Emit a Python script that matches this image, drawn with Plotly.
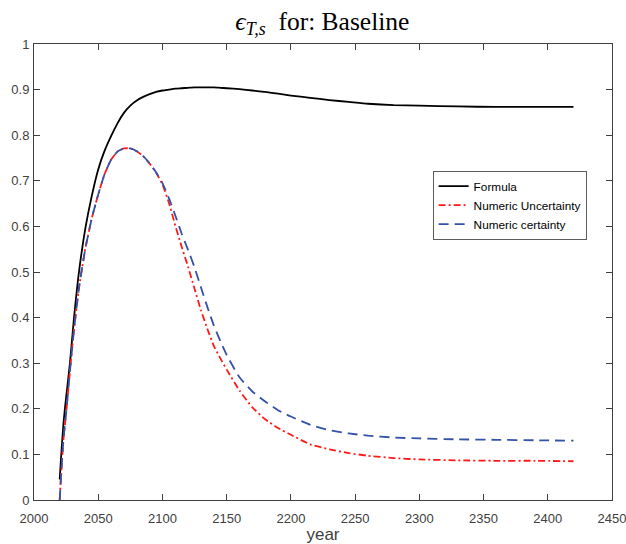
import plotly.graph_objects as go

years = [2020, 2021, 2023, 2025, 2028, 2031, 2035, 2040, 2045, 2050,
         2055, 2060, 2065, 2070, 2075, 2080, 2085, 2090, 2095, 2100,
         2105, 2110, 2115, 2120, 2125, 2130, 2135, 2140, 2145, 2150,
         2160, 2170, 2180, 2190, 2200, 2215, 2230, 2245, 2260, 2280,
         2300, 2330, 2360, 2390, 2420]

formula = [0.045, 0.09, 0.17, 0.225, 0.30, 0.395, 0.50, 0.596, 0.667, 0.725,
           0.766, 0.798, 0.826, 0.849, 0.865, 0.876, 0.884, 0.890, 0.895, 0.898,
           0.900, 0.902, 0.903, 0.904, 0.905, 0.905, 0.905, 0.905, 0.904, 0.903,
           0.901, 0.898, 0.895, 0.891, 0.887, 0.882, 0.877, 0.873, 0.869, 0.866,
           0.865, 0.863, 0.862, 0.862, 0.862]

numeric_uncertainty = [0.0, 0.05, 0.135, 0.19, 0.283, 0.37, 0.465, 0.552, 0.618, 0.670,
                       0.715, 0.746, 0.764, 0.771, 0.771, 0.765, 0.754, 0.738, 0.718, 0.692,
                       0.652, 0.602, 0.555, 0.511, 0.463, 0.416, 0.375, 0.338, 0.311, 0.286,
                       0.240, 0.203, 0.177, 0.158, 0.143, 0.122, 0.111, 0.103, 0.097, 0.092,
                       0.089, 0.087, 0.086, 0.086, 0.085]

numeric_certainty = [0.0, 0.05, 0.135, 0.19, 0.283, 0.37, 0.465, 0.552, 0.618, 0.670,
                     0.715, 0.746, 0.764, 0.771, 0.771, 0.765, 0.754, 0.738, 0.719, 0.695,
                     0.662, 0.624, 0.584, 0.548, 0.510, 0.466, 0.423, 0.383, 0.349, 0.318,
                     0.269, 0.238, 0.216, 0.197, 0.183, 0.165, 0.153, 0.146, 0.141, 0.137,
                     0.135, 0.133, 0.132, 0.131, 0.130]

x_ticks = [2000, 2050, 2100, 2150, 2200, 2250, 2300, 2350, 2400, 2450]
y_ticks = [0, 0.1, 0.2, 0.3, 0.4, 0.5, 0.6, 0.7, 0.8, 0.9, 1]
y_tick_labels = ["0", "0.1", "0.2", "0.3", "0.4", "0.5", "0.6", "0.7", "0.8", "0.9", "1"]

fig = go.Figure()
fig.add_trace(go.Scatter(x=years, y=formula, mode="lines", name="Formula",
                         line=dict(color="#000000", width=1.8, shape="spline", smoothing=0.5)))
fig.add_trace(go.Scatter(x=years, y=numeric_uncertainty, mode="lines", name="Numeric Uncertainty",
                         line=dict(color="#ff1a1a", width=1.8, dash="7px,3px,2px,3px",
                                   shape="spline", smoothing=0.5)))
fig.add_trace(go.Scatter(x=years, y=numeric_certainty, mode="lines", name="Numeric certainty",
                         line=dict(color="#3352a8", width=1.8, dash="10px,6px",
                                   shape="spline", smoothing=0.5)))

axis_color = "#404040"
fig.update_layout(
    width=626, height=544,
    margin=dict(l=34, r=14, t=44, b=44, autoexpand=False),
    paper_bgcolor="white", plot_bgcolor="white",
    title=dict(text="<i>ϵ</i><sub><i>T,s</i></sub>  for: Baseline",
               font=dict(family="Liberation Serif, DejaVu Serif, serif", size=25.5, color="#000000"),
               x=0.515, xanchor="center", y=0.962, yanchor="middle"),
    font=dict(family="Liberation Sans, Arial, sans-serif", size=13, color=axis_color),
    showlegend=True,
    legend=dict(x=0.69, y=0.722, xanchor="left", yanchor="top",
                bgcolor="white", bordercolor="#333333", borderwidth=0.8,
                font=dict(size=11.8, color="#000000"),
                tracegroupgap=0, itemwidth=30),
)
fig.update_xaxes(range=[2000, 2450], tickvals=x_ticks, ticktext=[str(v) for v in x_ticks],
                 automargin=False, ticklabeloverflow="allow",
                 showgrid=False, zeroline=False, showline=True, linecolor=axis_color, linewidth=1,
                 mirror="ticks", ticks="inside", ticklen=6, tickcolor=axis_color,
                 ticklabelstandoff=6,
                 tickfont=dict(size=13, color=axis_color),
                 title=dict(text="year", font=dict(size=17, color=axis_color), standoff=4))
fig.update_yaxes(range=[0, 1], tickvals=y_ticks, ticktext=y_tick_labels,
                 automargin=False, ticklabeloverflow="allow",
                 showgrid=False, zeroline=False, showline=True, linecolor=axis_color, linewidth=1,
                 mirror="ticks", ticks="inside", ticklen=6, tickcolor=axis_color,
                 ticklabelstandoff=1,
                 tickfont=dict(size=13, color=axis_color))

fig.write_html("out.html")
